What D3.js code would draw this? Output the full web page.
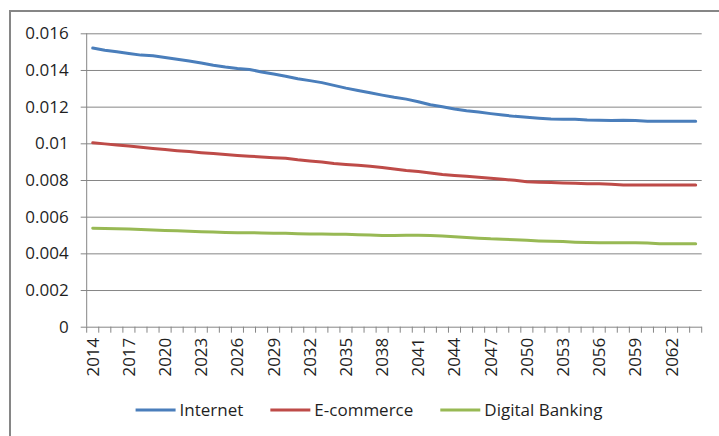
<!DOCTYPE html>
<html>
<head>
<meta charset="utf-8">
<script src="https://cdn.jsdelivr.net/npm/d3@7"></script>
<style>
  body { margin: 0; background: #fff; }
  text { font-family: "Open Sans", "Liberation Sans", sans-serif; fill: #1f1f1f; }
</style>
</head>
<body>
<div id="chart"></div>
<script>
var w = 719;
var h = 436;

// categories: one per year, 2014 .. 2064
var years = d3.range(2014, 2065);
var yTicks = [0, 0.002, 0.004, 0.006, 0.008, 0.01, 0.012, 0.014, 0.016];
var seriesNames = ["Internet", "E-commerce", "Digital Banking"];
var seriesColors = ["#4a7ebb", "#be4b48", "#98b954"];

var internet = [
  0.01520, 0.01508, 0.01499, 0.01490, 0.01481, 0.01477, 0.01468, 0.01459, 0.01449, 0.01438,
  0.01426, 0.01416, 0.01408, 0.01403, 0.01389, 0.01378, 0.01366, 0.01352, 0.01342, 0.01331,
  0.01316, 0.01301, 0.01288, 0.01276, 0.01263, 0.01251, 0.01241, 0.01227, 0.01210, 0.01199,
  0.01187, 0.01178, 0.01171, 0.01162, 0.01154, 0.01147, 0.01142, 0.01137, 0.01133, 0.01131,
  0.01131, 0.01127, 0.01126, 0.01125, 0.01126, 0.01124, 0.01120, 0.01121, 0.01121, 0.01120,
  0.01120
];
var ecommerce = [
  0.01003, 0.00997, 0.00991, 0.00985, 0.00978, 0.00972, 0.00966, 0.00960, 0.00955, 0.00949,
  0.00944, 0.00939, 0.00934, 0.00930, 0.00926, 0.00922, 0.00918, 0.00910, 0.00904, 0.00898,
  0.00890, 0.00885, 0.00880, 0.00875, 0.00868, 0.00860, 0.00852, 0.00846, 0.00838, 0.00830,
  0.00825, 0.00820, 0.00815, 0.00809, 0.00804, 0.00798, 0.00791, 0.00788, 0.00786, 0.00784,
  0.00782, 0.00780, 0.00780, 0.00777, 0.00773, 0.00773, 0.00773, 0.00773, 0.00773, 0.00773,
  0.00773
];
var banking = [
  0.00537, 0.00535, 0.00534, 0.00533, 0.00530, 0.00527, 0.00525, 0.00523, 0.00520, 0.00518,
  0.00516, 0.00514, 0.00513, 0.00513, 0.00511, 0.00510, 0.00509, 0.00507, 0.00505, 0.00505,
  0.00504, 0.00504, 0.00502, 0.00500, 0.00498, 0.00497, 0.00499, 0.00499, 0.00497, 0.00495,
  0.00491, 0.00487, 0.00483, 0.00479, 0.00477, 0.00474, 0.00471, 0.00468, 0.00466, 0.00464,
  0.00461, 0.00459, 0.00458, 0.00458, 0.00458, 0.00458, 0.00456, 0.00453, 0.00453, 0.00453,
  0.00453
];
var seriesValues = [internet, ecommerce, banking];

var svg = d3.select("#chart")
    .append("svg")
    .attr("width", w)
    .attr("height", h);

// outer chart border (cut off at right and bottom like the original)
svg.append("rect")
    .attr("x", 10).attr("y", 11)
    .attr("width", 740).attr("height", 460)
    .attr("fill", "none")
    .attr("stroke", "#868686")
    .attr("stroke-width", 2);

var margin = {top: 33.3, left: 86.7, right: 17.3, bottom: 109.3},
    width = w - margin.left - margin.right,
    height = h - margin.top - margin.bottom;

var x = d3.scaleBand().domain(years).range([0, width]).padding(0);
var y = d3.scaleLinear().domain([0, 0.016]).range([height, 0]);

var g = svg.append("g")
    .attr("transform", "translate(" + margin.left + "," + margin.top + ")");

// y axis with gridlines
var yAxis = g.append("g")
    .call(d3.axisLeft(y).tickValues(yTicks).tickSize(-width - 6).tickPadding(12)
      .tickFormat(function(d) { return String(+d.toFixed(3)); }))
    .attr("transform", "translate(-6,0)");
yAxis.select(".domain").remove();
yAxis.selectAll("line").attr("stroke", "#868686");
yAxis.selectAll("text").style("font-size", "17px").attr("fill", "#1f1f1f");

// y axis line
g.append("line")
    .attr("x1", 0).attr("x2", 0)
    .attr("y1", 0).attr("y2", height)
    .attr("stroke", "#868686");

// x axis: tick marks on category boundaries
var xg = g.append("g").attr("transform", "translate(0," + height + ")");
xg.selectAll(".xtick")
    .data(years.concat([null]))
    .enter().append("line")
      .attr("class", "xtick")
      .attr("x1", function(d) { return d === null ? width : x(d); })
      .attr("x2", function(d) { return d === null ? width : x(d); })
      .attr("y1", 0).attr("y2", 6)
      .attr("stroke", "#868686");

var xLab = xg.append("g")
    .call(d3.axisBottom(x)
      .tickValues(years.filter(function(d, i) { return i % 3 === 0; }))
      .tickSize(0));
xLab.select(".domain").remove();
xLab.selectAll("text")
    .style("font-size", "17px")
    .attr("fill", "#1f1f1f")
    .attr("text-anchor", "end")
    .attr("transform", "rotate(-90)")
    .attr("x", -11)
    .attr("y", 0)
    .attr("dy", "0.35em");

// lines
var line = d3.line()
    .x(function(d, i) { return x(years[i]) + x.bandwidth() / 2; })
    .y(function(d) { return y(d); });

seriesValues.forEach(function(vals, k) {
  g.append("path")
      .datum(vals)
      .attr("fill", "none")
      .attr("stroke", seriesColors[k])
      .attr("stroke-width", 3)
      .attr("stroke-linecap", "round")
      .attr("stroke-linejoin", "round")
      .attr("d", line);
});

// legend, centred on the chart area
var legend = svg.append("g");
var items = legend.selectAll(".item")
    .data(seriesNames)
    .enter().append("g")
      .attr("class", "item");
items.append("line")
    .attr("x1", 0).attr("x2", 40)
    .attr("y1", 0).attr("y2", 0)
    .attr("stroke-width", 3)
    .attr("stroke", function(d, i) { return seriesColors[i]; });
items.append("text")
    .attr("x", 44)
    .attr("dy", "0.35em")
    .style("font-size", "17px")
    .text(function(d) { return d; });

var pos = 0;
items.each(function() {
  var node = d3.select(this);
  var tw = node.select("text").node().getComputedTextLength();
  node.attr("transform", "translate(" + pos + ",0)");
  pos += 44 + tw + 27;
});
var total = pos - 27;
legend.attr("transform", "translate(" + (369 - total / 2) + ",410)");
</script>
</body>
</html>
